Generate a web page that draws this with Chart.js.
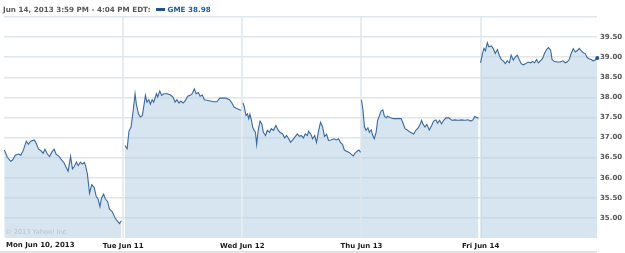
<!DOCTYPE html>
<html><head><meta charset="utf-8">
<script src="https://cdn.jsdelivr.net/npm/chart.js@4.4.1/dist/chart.umd.min.js"></script>
<style>
html,body{margin:0;padding:0;background:#fff;}
#wrap{position:relative;width:625px;height:253px;overflow:hidden;}
#c{position:absolute;left:0;top:0;}
#hdr{position:absolute;left:3px;top:5px;font:bold 7.2px "DejaVu Sans";color:#5a5a5a;white-space:nowrap;line-height:9px;}
#hdr .sw{display:inline-block;width:9px;height:3px;background:#24528c;margin:0 3px 1px 5px;vertical-align:middle;}
#hdr .tk{color:#235c9e;}
#copy{position:absolute;left:5px;top:228px;font:6.6px "DejaVu Sans";color:#b7c3cc;white-space:nowrap;}
#strip{position:absolute;left:0;top:251px;width:597px;height:2px;background:#e2e2e2;}
</style></head>
<body><div id="wrap">
<canvas id="c" width="625" height="253"></canvas>
<div id="hdr">Jun 14, 2013 3:59 PM - 4:04 PM EDT:<span class="sw"></span><span class="tk">GME 38.98</span></div>
<div id="copy">© 2013 Yahoo! Inc.</div>
<div id="strip"></div>
</div>
<script>
// Day labels and minutes-per-session
const dayLabels = ['Mon Jun 10, 2013','Tue Jun 11','Wed Jun 12','Thu Jun 13','Fri Jun 14'];
const sessionMinutes = 390;
const yTickValues = [35,35.5,36,36.5,37,37.5,38,38.5,39,39.5,40];
const yTickLabels = ['35.00','35.50','36.00','36.50','37.00','37.50','38.00','38.50','39.00','39.50',''];

// minutes since open / price, per day
const monTimes = [1,11,22,28,37,47,55,63,73,80,87,99,104,113,120,128,134,142,149,156,164,171,180,189,196,202,210,218,224,230,237,243,250,256,263,267,273,280,287,295,302,308,314,319,326,332,339,345,354,363,370,378,384];
const monPrices = [36.69,36.51,36.41,36.44,36.56,36.59,36.56,36.68,36.91,36.83,36.91,36.94,36.88,36.71,36.68,36.61,36.71,36.59,36.53,36.63,36.71,36.58,36.53,36.44,36.38,36.28,36.16,36.53,36.22,36.28,36.39,36.30,36.39,36.34,36.38,36.30,36.09,35.61,35.83,35.76,35.53,35.47,35.28,35.49,35.59,35.47,35.41,35.22,35.16,35.01,34.93,34.86,34.93];

const tueTimes = [6,13,19,26,33,39,43,50,56,63,73,78,84,89,95,100,109,113,120,126,133,144,155,163,170,176,183,189,196,203,211,220,226,233,239,246,252,259,266,274,285,296,307,316,326,337,348,356,363,372,381,386];
const tuePrices = [36.80,36.72,37.16,37.26,37.68,38.09,37.84,37.59,37.51,37.55,38.05,37.88,37.94,37.83,37.94,37.88,38.09,38.01,38.16,38.05,38.09,38.09,38.06,38.01,37.88,37.94,37.86,37.91,37.86,37.91,38.03,38.05,38.09,38.21,38.09,38.12,38.03,38.06,37.94,37.93,37.91,37.89,37.89,37.98,37.98,37.98,37.94,37.86,37.76,37.72,37.69,37.68];

const wedTimes = [2,6,12,17,21,25,30,34,38,43,47,52,58,64,69,76,82,89,95,102,110,117,123,132,139,145,152,158,165,172,180,187,193,200,206,213,217,224,230,237,243,250,256,263,269,276,282,291,300,308,315,321,328,334,341,350,357,363,369,376,382,387];
const wedPrices = [37.86,37.78,37.55,37.59,37.47,37.58,37.43,37.26,37.19,37.13,36.83,37.18,37.41,37.34,37.13,37.05,37.18,37.13,37.22,37.18,37.30,37.19,37.13,37.09,36.99,37.05,36.97,36.88,36.94,37.01,37.09,37.03,37.05,36.99,37.09,37.05,37.16,37.09,36.97,37.05,36.88,37.18,37.38,37.26,37.03,37.08,36.93,36.94,36.97,36.94,36.97,36.88,36.83,36.69,36.66,36.63,36.58,36.54,36.61,36.66,36.69,36.63];

const thuTimes = [0,5,10,15,21,26,32,37,42,48,53,59,64,70,75,81,86,95,106,119,130,135,143,151,160,171,178,186,192,197,201,208,214,222,230,236,244,249,256,262,269,277,286,295,306,317,328,338,349,358,365,371,378,383];
const thuPrices = [37.94,37.68,37.26,37.18,37.24,37.13,37.19,37.05,36.97,37.13,37.43,37.55,37.66,37.69,37.53,37.49,37.53,37.49,37.47,37.47,37.47,37.38,37.22,37.18,37.13,37.09,37.18,37.24,37.33,37.43,37.34,37.26,37.33,37.19,37.30,37.41,37.44,37.36,37.43,37.34,37.43,37.49,37.49,37.43,37.44,37.43,37.44,37.43,37.44,37.41,37.44,37.53,37.49,37.49];

const friTimes = [0,6,11,16,22,27,35,41,48,55,61,68,74,81,87,94,100,107,114,120,127,133,140,148,155,164,170,177,183,189,196,203,209,216,222,229,234,242,251,261,270,277,283,290,296,303,310,316,323,329,336,342,349,355,362,368,375,382];
const friPrices = [38.86,39.09,39.22,39.16,39.36,39.26,39.28,39.22,39.09,39.19,39.05,38.94,38.91,38.84,38.91,38.86,39.05,38.93,39.01,39.05,38.93,38.84,38.81,38.84,38.88,38.86,38.89,38.86,38.94,38.86,38.91,38.97,39.09,39.19,39.24,39.18,38.94,38.89,38.88,38.88,38.91,38.86,38.88,38.94,39.08,39.21,39.13,39.16,39.22,39.16,39.11,39.09,38.99,38.96,38.94,38.91,38.93,38.98];

const days = [[monTimes,monPrices],[tueTimes,tuePrices],[wedTimes,wedPrices],[thuTimes,thuPrices],[friTimes,friPrices]];
const dayStarts = dayLabels.map((_, i) => i * sessionMinutes);

const LINE = '#3b6a9f';
const datasets = days.map(([t, p], di) => ({
  data: t.map((m, k) => ({x: dayStarts[di] + m, y: p[k]})),
  borderColor: LINE,
  borderWidth: 1.1,
  backgroundColor: 'rgba(173,203,226,0.5)',
  fill: 'start',
  tension: 0,
  pointRadius: di === 4 ? (c => c.dataIndex === t.length - 1 ? 2 : 0) : 0,
  pointBackgroundColor: '#24528c',
  pointBorderWidth: 0,
  clip: di === 4 ? false : undefined
}));

const FONT = {family: 'DejaVu Sans', size: 7, weight: 'bold'};

const firstLabel = {
  id: 'firstLabel',
  afterDraw(chart) {
    const xs = chart.scales.x, ctx = chart.ctx;
    ctx.save();
    ctx.font = 'bold 7px "DejaVu Sans"';
    ctx.fillStyle = '#1a1a1a';
    ctx.textAlign = 'left';
    ctx.textBaseline = 'top';
    ctx.fillText(dayLabels[0], xs.getPixelForValue(dayStarts[0]) + 2, xs.top + 4);
    ctx.restore();
  }
};

new Chart(document.getElementById('c'), {
  type: 'line',
  data: {datasets},
  plugins: [firstLabel],
  options: {
    responsive: false,
    animation: false,
    events: [],
    layout: {padding: {top: 17, left: 1, right: 0, bottom: 0}},
    plugins: {legend: {display: false}, tooltip: {enabled: false}},
    scales: {
      x: {
        type: 'linear', min: 0, max: 1941,
        afterFit: s => { s.height = 15; },
        afterBuildTicks: s => { s.ticks = dayStarts.slice(1).map(v => ({value: v})); },
        grid: {color: '#e6ecf0', lineWidth: 2, drawTicks: false},
        border: {display: false},
        ticks: {
          font: FONT, color: '#1a1a1a', padding: 4, maxRotation: 0, autoSkip: false,
          callback: v => dayLabels[dayStarts.indexOf(v)]
        }
      },
      y: {
        position: 'right', min: 34.5, max: 40,
        afterFit: s => { s.width = 28; },
        afterBuildTicks: s => { s.ticks = yTickValues.map(v => ({value: v})); },
        grid: {color: '#dfe6ec', lineWidth: 1.5, drawTicks: false},
        border: {display: false},
        ticks: {
          font: FONT, color: '#555555', padding: 3,
          callback: v => yTickLabels[yTickValues.indexOf(v)]
        }
      }
    }
  }
});
</script>
</body></html>
